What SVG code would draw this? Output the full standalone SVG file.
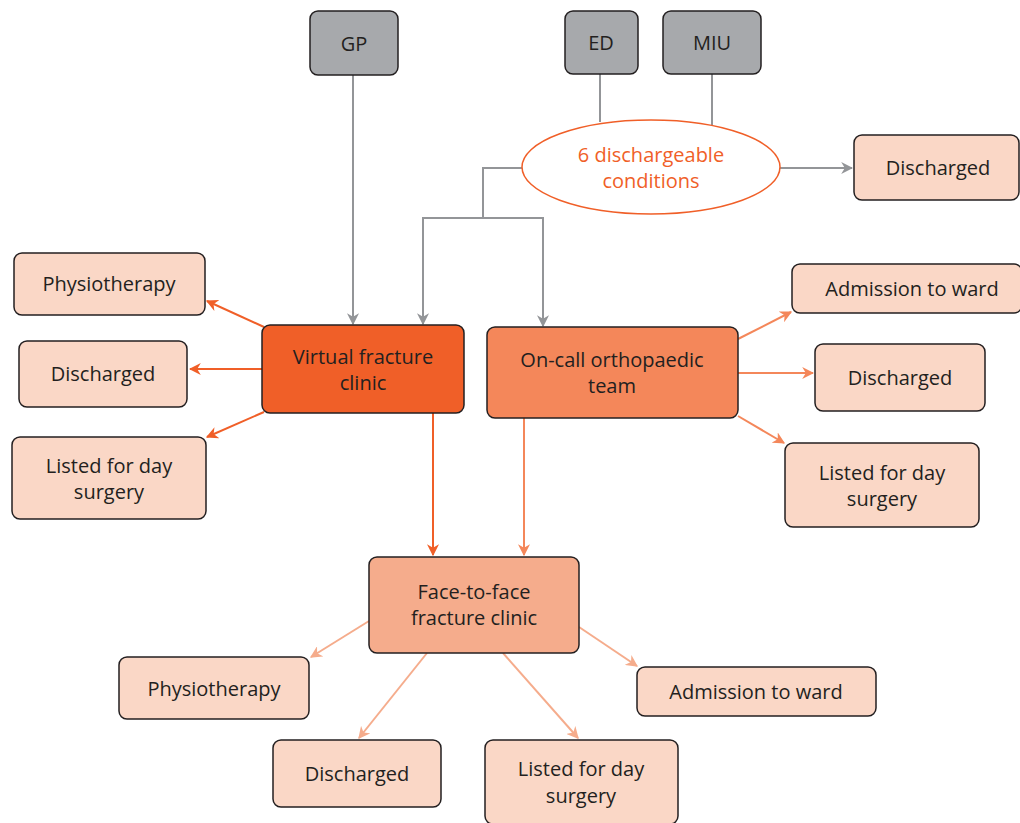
<svg xmlns="http://www.w3.org/2000/svg" width="1020" height="823" viewBox="0 0 1020 823">
<style>
.box{stroke:#231f20;stroke-width:1.5}
.gray{fill:#a7a9ac}
.light{fill:#fad7c6}
.t{font-family:"Open Sans","Noto Sans",sans-serif;font-size:20px;fill:#231f20;text-anchor:middle;dominant-baseline:central}
.g{stroke:#939598;stroke-width:2;fill:none}
.o1{stroke:#f05f28;stroke-width:2;fill:none}
.o2{stroke:#f4875a;stroke-width:2;fill:none}
.o3{stroke:#f5ac8c;stroke-width:2;fill:none}
</style>
<defs>
<marker id="ag" viewBox="0 0 10 10" refX="9" refY="5" markerWidth="12" markerHeight="12" orient="auto" markerUnits="userSpaceOnUse"><path d="M0,0 L10,5 L0,10 L3,5 Z" fill="#939598"/></marker>
<marker id="a1" viewBox="0 0 10 10" refX="9" refY="5" markerWidth="6" markerHeight="6" orient="auto"><path d="M0,0 L10,5 L0,10 L3,5 Z" fill="#f05f28"/></marker>
<marker id="a2" viewBox="0 0 10 10" refX="9" refY="5" markerWidth="6" markerHeight="6" orient="auto"><path d="M0,0 L10,5 L0,10 L3,5 Z" fill="#f4875a"/></marker>
<marker id="a3" viewBox="0 0 10 10" refX="9" refY="5" markerWidth="6" markerHeight="6" orient="auto"><path d="M0,0 L10,5 L0,10 L3,5 Z" fill="#f5ac8c"/></marker>
</defs>
<rect width="1020" height="823" fill="#ffffff"/>
<g id="connectors">
<line class="g" x1="353" y1="75" x2="353" y2="324" marker-end="url(#ag)"/>
<line class="g" x1="600" y1="74" x2="600" y2="122"/>
<line class="g" x1="712" y1="74" x2="712" y2="125"/>
<polyline class="g" points="522,168 483,168 483,218"/>
<polyline class="g" points="423,240 423,218 543,218 543,326" marker-end="url(#ag)"/>
<line class="g" x1="423" y1="218" x2="423" y2="324" marker-end="url(#ag)"/>
<line class="g" x1="780" y1="168" x2="852" y2="168" marker-end="url(#ag)"/>
<line class="o1" x1="264" y1="327" x2="207" y2="301" marker-end="url(#a1)"/>
<line class="o1" x1="262" y1="369" x2="190" y2="369" marker-end="url(#a1)"/>
<line class="o1" x1="264" y1="412" x2="207" y2="437" marker-end="url(#a1)"/>
<line class="o1" x1="433" y1="413" x2="433" y2="555" marker-end="url(#a1)"/>
<line class="o2" x1="524" y1="418" x2="524" y2="555" marker-end="url(#a2)"/>
<line class="o2" x1="738" y1="339" x2="791" y2="312" marker-end="url(#a2)"/>
<line class="o2" x1="738" y1="373" x2="813" y2="373" marker-end="url(#a2)"/>
<line class="o2" x1="738" y1="416" x2="784" y2="443" marker-end="url(#a2)"/>
<line class="o3" x1="369" y1="621" x2="311" y2="657" marker-end="url(#a3)"/>
<line class="o3" x1="427" y1="653" x2="359" y2="738" marker-end="url(#a3)"/>
<line class="o3" x1="503" y1="653" x2="578" y2="738" marker-end="url(#a3)"/>
<line class="o3" x1="579" y1="627" x2="637" y2="666" marker-end="url(#a3)"/>
</g>
<g id="gp"><rect class="box gray" x="310" y="11" width="88" height="64" rx="8"/><text class="t" x="354" y="43">GP</text></g>
<g id="ed"><rect class="box gray" x="565" y="11" width="73" height="63" rx="8"/><text class="t" x="601" y="42">ED</text></g>
<g id="miu"><rect class="box gray" x="663" y="11" width="98" height="63" rx="8"/><text class="t" x="712" y="42">MIU</text></g>
<g id="conditions"><ellipse cx="651" cy="167" rx="129" ry="47" fill="#ffffff" stroke="#f05f28" stroke-width="1.5"/><text class="t" x="651" y="154" style="fill:#f05f28">6 dischargeable</text><text class="t" x="651" y="180" style="fill:#f05f28">conditions</text></g>
<g id="discharged-top"><rect class="box light" x="854" y="135" width="165" height="65" rx="8"/><text class="t" x="938" y="167">Discharged</text></g>
<g id="physio-left"><rect class="box light" x="14" y="253" width="191" height="62" rx="8"/><text class="t" x="109" y="283">Physiotherapy</text></g>
<g id="discharged-left"><rect class="box light" x="19" y="341" width="168" height="66" rx="8"/><text class="t" x="103" y="373">Discharged</text></g>
<g id="listed-left"><rect class="box light" x="12" y="437" width="194" height="82" rx="8"/><text class="t" x="109" y="465">Listed for day</text><text class="t" x="109" y="491">surgery</text></g>
<g id="vfc"><rect class="box" x="262" y="325" width="202" height="88" rx="8" fill="#f05f28"/><text class="t" x="363" y="356">Virtual fracture</text><text class="t" x="363" y="382">clinic</text></g>
<g id="oncall"><rect class="box" x="487" y="327" width="251" height="91" rx="8" fill="#f4875a"/><text class="t" x="612" y="359">On-call orthopaedic</text><text class="t" x="612" y="385">team</text></g>
<g id="admission-right"><rect class="box light" x="792" y="264" width="230" height="49" rx="8"/><text class="t" x="912" y="288">Admission to ward</text></g>
<g id="discharged-right"><rect class="box light" x="815" y="344" width="170" height="67" rx="8"/><text class="t" x="900" y="377">Discharged</text></g>
<g id="listed-right"><rect class="box light" x="785" y="443" width="194" height="84" rx="8"/><text class="t" x="882" y="472">Listed for day</text><text class="t" x="882" y="498">surgery</text></g>
<g id="f2f"><rect class="box" x="369" y="557" width="210" height="96" rx="8" fill="#f5ac8c"/><text class="t" x="474" y="591">Face-to-face</text><text class="t" x="474" y="617">fracture clinic</text></g>
<g id="physio-bottom"><rect class="box light" x="119" y="657" width="190" height="62" rx="8"/><text class="t" x="214" y="688">Physiotherapy</text></g>
<g id="discharged-bottom"><rect class="box light" x="273" y="740" width="168" height="67" rx="8"/><text class="t" x="357" y="773">Discharged</text></g>
<g id="listed-bottom"><rect class="box light" x="485" y="740" width="193" height="84" rx="8"/><text class="t" x="581" y="768">Listed for day</text><text class="t" x="581" y="795">surgery</text></g>
<g id="admission-bottom"><rect class="box light" x="637" y="667" width="239" height="49" rx="8"/><text class="t" x="756" y="691">Admission to ward</text></g>
</svg>
